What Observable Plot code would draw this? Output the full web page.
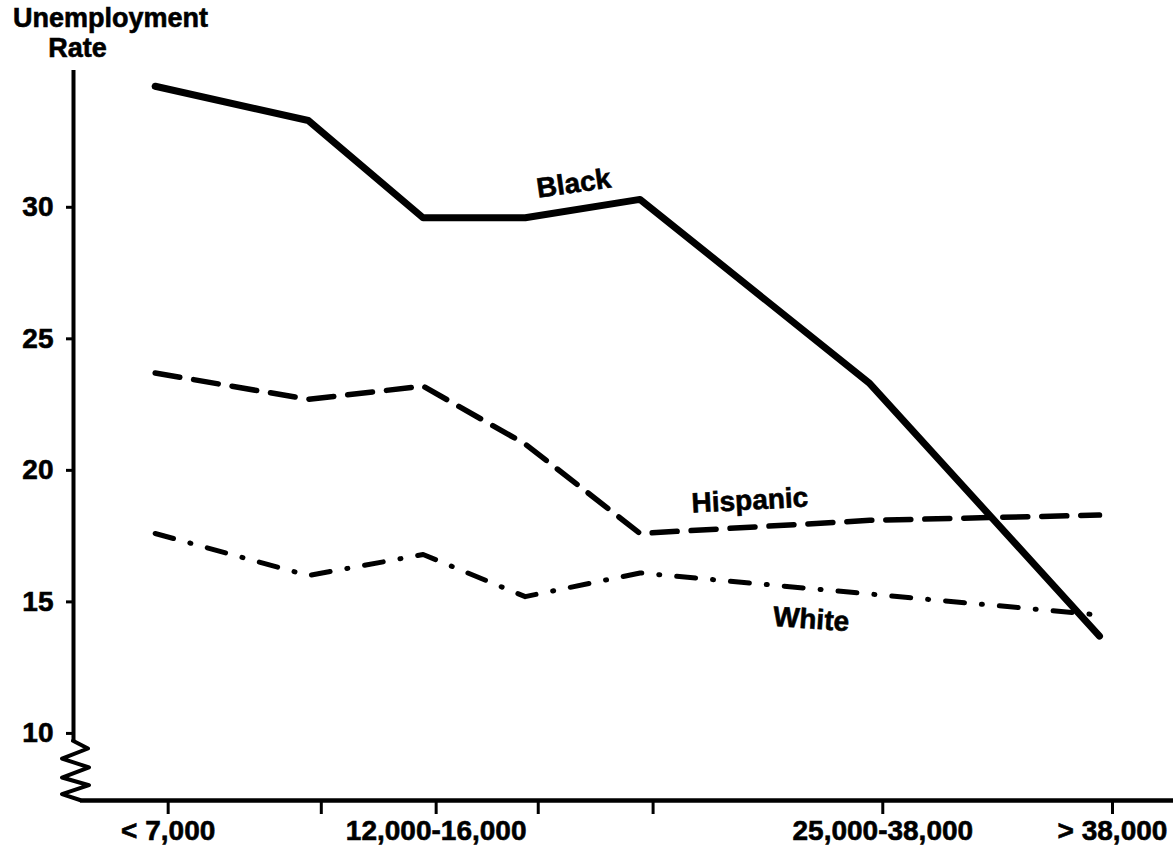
<!DOCTYPE html>
<html><head><meta charset="utf-8">
<script src="https://cdn.jsdelivr.net/npm/d3@7"></script>
<script src="https://cdn.jsdelivr.net/npm/@observablehq/plot@0.6"></script>
<style>
html,body{margin:0;padding:0;background:#fff;}
#chart svg text{stroke:black;stroke-width:0.6px;}
</style>
</head><body><div id="chart"></div>
<script>
// Income brackets (plotted at bracket midpoints, $ thousands)
const incomeMid = [3.5, 9.5, 14, 18, 22.5, 31.5, 40.5];
const tickLabels = ["< 7,000", "", "12,000-16,000", "", "", "25,000-38,000", "> 38,000"];
// Unemployment rates (%)
const black    = [34.6, 33.3, 29.6, 29.6, 30.3, 23.3, 13.7];
const hispanic = [23.7, 22.7, 23.2, 21.0, 17.6, 18.1, 18.3];
const white    = [17.6, 16.0, 16.8, 15.2, 16.1, 15.3, 14.5];
const yTicks = [10, 15, 20, 25, 30];
// Series labels
const seriesNames = ["Black", "Hispanic", "White"];
const labelX = [19.9, 26.8, 29.2];
const labelY = [30.9, 18.85, 14.33];
const labelRotate = [-8, -3, 4];

const xDomain = [0.3, 43.4];
const yDomain = [7.45, 35.2];

const rows = s => incomeMid.map((x, i) => ({x, y: s[i]}));
const labelMap = new Map(incomeMid.map((d, i) => [d, tickLabels[i]]));
const labels = seriesNames.map((t, i) => ({t, x: labelX[i], y: labelY[i], r: labelRotate[i]}));

const font = "'Liberation Sans', Arial, Helvetica, sans-serif";
const fs = 28;

const plot = Plot.plot({
  width: 1173,
  height: 847,
  marginLeft: 73,
  marginRight: 0,
  marginTop: 70,
  marginBottom: 47,
  x: {type: "linear", domain: xDomain, axis: null, label: null},
  y: {type: "linear", domain: yDomain, axis: null, label: null},
  style: {fontFamily: font, fontWeight: "bold", fontSize: fs + "px", background: "white", color: "black", overflow: "visible"},
  marks: [
    // axis lines
    Plot.ruleX([xDomain[0]], {y1: 9.7, y2: yDomain[1], strokeWidth: 4, stroke: "black"}),
    Plot.ruleY([yDomain[0]], {x1: 0.57, x2: xDomain[1], strokeWidth: 4.5, stroke: "black"}),
    Plot.axisY({ticks: yTicks, tickSize: 7, tickPadding: 13, strokeWidth: 3, label: null, fontSize: fs, fill: "black"}),
    Plot.axisX({ticks: incomeMid, tickFormat: d => labelMap.get(d), tickSize: 14, tickPadding: 6, strokeWidth: 3, dx: 13, label: null, fontSize: fs, fill: "black"}),
    // series
    Plot.line(rows(black), {x: "x", y: "y", stroke: "black", strokeWidth: 7, strokeLinecap: "round", strokeLinejoin: "round"}),
    Plot.line(rows(hispanic), {x: "x", y: "y", stroke: "black", strokeWidth: 5.5, strokeDasharray: "25,14", strokeLinecap: "round", strokeLinejoin: "round"}),
    Plot.line(rows(white), {x: "x", y: "y", stroke: "black", strokeWidth: 5, strokeDasharray: "19,17,1,17", strokeLinecap: "round", strokeLinejoin: "round"}),
    // series labels
    Plot.text(labels, {x: "x", y: "y", text: "t", rotate: "r", fontSize: fs, fontWeight: "bold", fill: "black"}),
    // y-axis title
    Plot.text(["Unemployment"], {frameAnchor: "top-left", dx: 37, dy: -44, text: d => d, textAnchor: "middle", lineAnchor: "bottom", fontSize: 27, fill: "black"}),
    Plot.text(["Rate"], {frameAnchor: "top-left", dx: 4, dy: -14, text: d => d, textAnchor: "middle", lineAnchor: "bottom", fontSize: 27, fill: "black"})
  ]
});

// axis break zigzag between the y-axis and x-axis
const sx = plot.scale("x"), sy = plot.scale("y");
const x0 = sx.apply(xDomain[0]);
const yTop = sy.apply(9.7), yBot = sy.apply(yDomain[0]);
const xEnd = sx.apply(0.57);
const h = yBot - yTop;
const zig = [[x0, yTop], [x0 + 15, yTop + h*0.13], [x0 - 11, yTop + h*0.30], [x0 + 16, yTop + h*0.45], [x0 - 11, yTop + h*0.62], [x0 + 16, yTop + h*0.75], [x0 - 11, yTop + h*0.9], [xEnd, yBot]];
d3.select(plot).append("path")
  .attr("d", d3.line()(zig))
  .attr("fill", "none").attr("stroke", "black").attr("stroke-width", 4)
  .attr("stroke-linejoin", "round").attr("stroke-linecap", "round");

document.getElementById("chart").appendChild(plot);
</script>
</body></html>
